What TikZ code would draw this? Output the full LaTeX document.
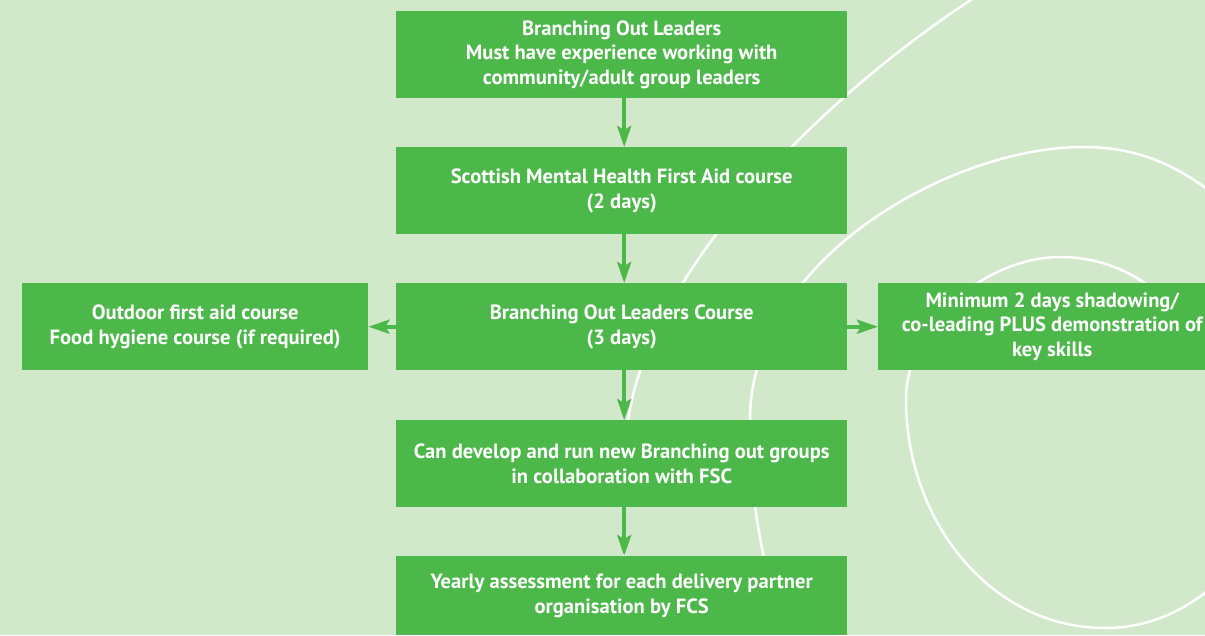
\documentclass[tikz,border=0pt]{standalone}
\usepackage{fontspec}
\setmainfont{PT Sans}
\usetikzlibrary{arrows.meta}
\definecolor{bgpale}{HTML}{D2E8CB}
\definecolor{boxgreen}{HTML}{4CB84A}
\begin{document}
\begin{tikzpicture}[x=1pt,y=-1pt,
  stepbox/.style={fill=boxgreen, draw=none, minimum width=451pt, minimum height=87pt,
    inner sep=0pt, align=center, text=white, anchor=north west,
    font=\bfseries\fontsize{20.6}{24.5}\selectfont},
  flow/.style={draw=boxgreen, line width=4pt, -{Stealth[length=21pt,width=14pt,inset=4pt]}},
  swirl/.style={draw=white, line width=2.5pt}]

\useasboundingbox (0,0) rectangle (1205,635);
\clip (0,0) rectangle (1205,635);
\fill[bgpale] (0,0) rectangle (1205,635);

% background swirl lines
\draw[swirl] (980,-6) .. controls (800,110) and (640,290) .. (627,430)
             .. controls (622,500) and (625,580) .. (626,640);
\draw[swirl] (1215,195) .. controls (1170,160) and (1130,147) .. (1083,147)
             .. controls (950,147) and (750,260) .. (750,420)
             .. controls (750,510) and (765,580) .. (790,640);
\draw[swirl] (1185,318) .. controls (1150,280) and (1110,257) .. (1060,257)
             .. controls (990,257) and (906,320) .. (906,400)
             .. controls (906,520) and (990,628) .. (1105,628)
             .. controls (1150,628) and (1185,610) .. (1215,585);

% flow boxes
\node[stepbox] (lead) at (396,11) {Branching Out Leaders\\Must have experience working with\\community/adult group leaders};
\node[stepbox] (smhfa) at (396,147) {Scottish Mental Health First Aid course\\(2 days)};
\node[stepbox] (course) at (396,283) {Branching Out Leaders Course\\(3 days)};
\node[stepbox, minimum width=346pt] (aid) at (22,283) {Outdoor first aid course\\Food hygiene course (if required)};
\node[stepbox, minimum width=348pt] (shadow) at (878,283) {Minimum 2 days shadowing/\\co-leading PLUS demonstration of\\key skills};
\node[stepbox] (groups) at (396,420) {Can develop and run new Branching out groups\\in collaboration with FSC};
\node[stepbox, minimum height=79pt] (yearly) at (396,556) {Yearly assessment for each delivery partner\\organisation by FCS};

% connectors
\draw[flow] ([xshift=2.5pt]lead.south) -- ([xshift=2.5pt]smhfa.north);
\draw[flow] ([xshift=2.5pt]smhfa.south) -- ([xshift=2.5pt]course.north);
\draw[flow] ([xshift=2.5pt]course.south) -- ([xshift=2.5pt]groups.north);
\draw[flow] ([xshift=2.5pt]groups.south) -- ([xshift=2.5pt]yearly.north);
\draw[flow] (course.west) -- (aid.east);
\draw[flow] (course.east) -- (shadow.west);
\end{tikzpicture}
\end{document}
